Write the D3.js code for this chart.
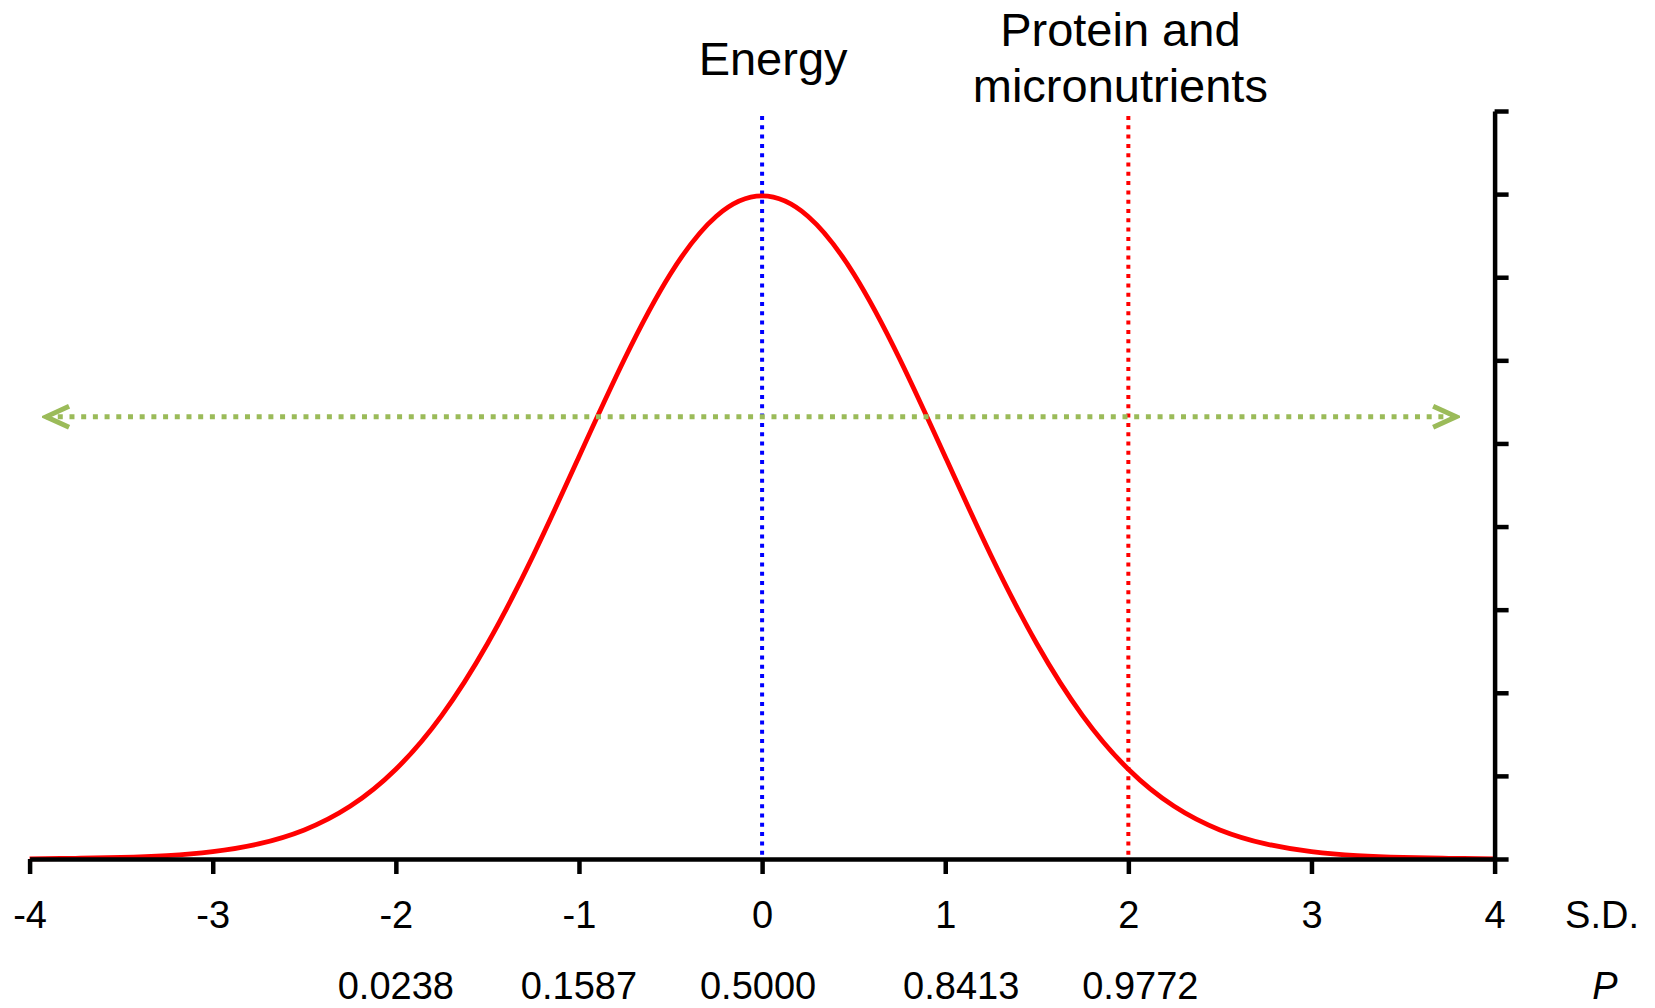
<!DOCTYPE html>
<html lang="en">
<head>
<meta charset="UTF-8">
<title>Energy vs protein requirements</title>
<script src="https://cdn.jsdelivr.net/npm/d3@7"></script>
<style>
  body { margin: 0; background: #fff; }
  text { font-family: "Liberation Sans", Arial, sans-serif; fill: #000; }
</style>
</head>
<body>
<svg id="chart" width="1655" height="1008"></svg>
<script>
// data
const sdTicks = [-4, -3, -2, -1, 0, 1, 2, 3, 4];
const yTicks = [0, 0.05, 0.1, 0.15, 0.2, 0.25, 0.3, 0.35, 0.4, 0.45];
const curveSD = [-4, -3.75, -3.5, -3.25, -3, -2.75, -2.5, -2.25, -2, -1.75, -1.5, -1.25, -1, -0.75, -0.5, -0.25,
                 0, 0.25, 0.5, 0.75, 1, 1.25, 1.5, 1.75, 2, 2.25, 2.5, 2.75, 3, 3.25, 3.5, 3.75, 4];
const curveDensity = [0.0001, 0.0004, 0.0009, 0.0020, 0.0044, 0.0091, 0.0175, 0.0317, 0.0540, 0.0863, 0.1295, 0.1826, 0.2420, 0.3011, 0.3521, 0.3867,
                      0.3989, 0.3867, 0.3521, 0.3011, 0.2420, 0.1826, 0.1295, 0.0863, 0.0540, 0.0317, 0.0175, 0.0091, 0.0044, 0.0020, 0.0009, 0.0004, 0.0001];
const pSD = [-2, -1, 0, 1, 2];
const pLabels = ["0.0238", "0.1587", "0.5000", "0.8413", "0.9772"];
const refNames = ["Energy", "Protein and micronutrients"];
const refSD = [0, 2];
const refTop = 0.447;
const arrowFrom = -3.91, arrowTo = 3.79, arrowLevel = 0.266;

const svg = d3.select("#chart");
const x = d3.scaleLinear().domain([-4, 4]).range([29.6, 1494.6]);
const y = d3.scaleLinear().domain([0, 0.45]).range([859, 111]);

// reference lines (dotted)
const refColors = ["#0000ff", "#ff0000"];
svg.selectAll("line.ref").data(refSD).enter().append("line")
  .attr("class", "ref")
  .attr("x1", d => x(d)).attr("x2", d => x(d))
  .attr("y1", y(refTop)).attr("y2", y(0))
  .attr("stroke", (d, i) => refColors[i])
  .attr("stroke-width", 4)
  .attr("stroke-dasharray", "4,5.3");

// normal curve
const pts = curveSD.map((d, i) => [d, curveDensity[i]]);
svg.append("path").datum(pts)
  .attr("fill", "none").attr("stroke", "#ff0000").attr("stroke-width", 4.8)
  .attr("d", d3.line().x(d => x(d[0])).y(d => y(d[1])).curve(d3.curveNatural));

// green double arrow
svg.append("defs").append("marker")
  .attr("id", "chev").attr("markerUnits", "userSpaceOnUse")
  .attr("viewBox", "-30 -15 34 30").attr("refX", 0).attr("refY", 0)
  .attr("markerWidth", 34).attr("markerHeight", 30)
  .attr("orient", "auto-start-reverse")
  .append("path").attr("d", "M-23,-10.5L0,0L-23,10.5")
  .attr("fill", "none").attr("stroke", "#9bbb59").attr("stroke-width", 5)
  .attr("stroke-linejoin", "miter");

svg.append("line")
  .attr("x1", x(arrowFrom)).attr("x2", x(arrowTo))
  .attr("y1", y(arrowLevel)).attr("y2", y(arrowLevel))
  .attr("stroke", "#9bbb59").attr("stroke-width", 5)
  .attr("stroke-dasharray", "5,6.7")
  .attr("marker-start", "url(#chev)").attr("marker-end", "url(#chev)");

// axes
const xAxis = svg.append("g").attr("transform", "translate(0," + y(0) + ")")
  .call(d3.axisBottom(x).tickValues(sdTicks).tickSizeInner(15).tickSizeOuter(0).tickFormat(d => String(d)));
const yAxis = svg.append("g").attr("transform", "translate(" + x(4) + ",0)")
  .call(d3.axisRight(y).tickValues(yTicks).tickSizeInner(14).tickSizeOuter(0).tickFormat(""));

[xAxis, yAxis].forEach(g => {
  g.selectAll("path.domain").attr("stroke", "#000").attr("stroke-width", 4.5);
  g.selectAll(".tick line").attr("stroke", "#000").attr("stroke-width", 4.5);
});
xAxis.selectAll(".tick text")
  .attr("dy", null).attr("y", 69)
  .style("font-size", "38px").style("font-family", "'Liberation Sans', Arial, sans-serif").attr("fill", "#000");

svg.append("text").attr("x", 1602).attr("y", 928).attr("text-anchor", "middle")
  .style("font-size", "38px").text("S.D.");

// P values, nudged sideways a little as in the original
const pNudge = [0, 0, -4, 16, 12];
svg.selectAll("text.p").data(pSD).enter().append("text")
  .attr("class", "p")
  .attr("x", (d, i) => x(d) + pNudge[i]).attr("y", 999)
  .attr("text-anchor", "middle").style("font-size", "38px")
  .text((d, i) => pLabels[i]);
svg.append("text").attr("x", 1605).attr("y", 999).attr("text-anchor", "middle")
  .style("font-size", "38px").style("font-style", "italic").text("P");

// labels above the reference lines
svg.append("text").attr("x", x(refSD[0]) + 11).attr("y", 75)
  .attr("text-anchor", "middle").style("font-size", "47px").text(refNames[0]);
const t2 = svg.append("text").attr("text-anchor", "middle").style("font-size", "47px");
t2.append("tspan").attr("x", x(refSD[1]) - 8).attr("y", 46).text("Protein and");
t2.append("tspan").attr("x", x(refSD[1]) - 8).attr("y", 102).text("micronutrients");
</script>
</body>
</html>
